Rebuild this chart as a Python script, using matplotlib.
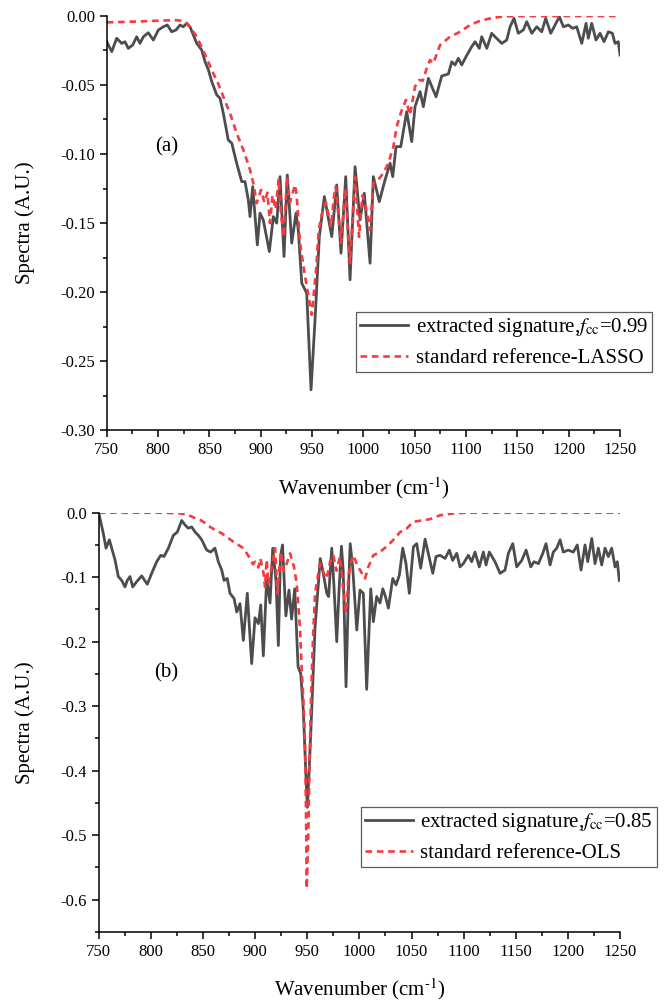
import matplotlib
matplotlib.use("Agg")
import matplotlib.pyplot as plt
from matplotlib.ticker import MultipleLocator, FormatStrFormatter

plt.rcParams["font.family"] = ["Liberation Serif", "DejaVu Serif"]
plt.rcParams["mathtext.fontset"] = "stix"
plt.rcParams["axes.unicode_minus"] = False

# ---- panel (a): LASSO ----
wn_a_ext = [750, 754.9, 759.7, 764.6, 767.8, 771, 775.3, 779.2, 782.4, 785.7, 790.5, 795.4,
            800.3, 805.1, 809, 813.3, 817.5, 821.4, 824.6, 827.9, 831.1, 837.7, 842.5, 845.8,
            849, 852.3, 857.2, 860.4, 863.6, 868.4, 871.8, 876.6, 881.5, 884.7, 887.9, 889.6,
            892.2, 896.7, 899.3, 902.5, 908.4, 912.3, 915.6, 918.8, 922.7, 925.9, 930.2, 934.4,
            936.6, 940, 944.8, 949, 952.9, 957.1, 962, 969.2, 974, 978.2, 982.8, 987, 991.9,
            996.7, 1000.9, 1006.5, 1009.7, 1015.5, 1021.1, 1026, 1028.6, 1031.8, 1036.4, 1042.2,
            1047.1, 1050.3, 1055.2, 1058.4, 1063.3, 1070.8, 1076.3, 1082.8, 1086.1, 1089.3,
            1092.5, 1095.8, 1100, 1105.5, 1108.8, 1112.9, 1115.3, 1120.2, 1125, 1128.2, 1134.8,
            1139.6, 1142.9, 1146.7, 1150.9, 1155.8, 1159.1, 1164, 1168.9, 1173.7, 1177.6,
            1182.5, 1186.7, 1190.9, 1194.8, 1199.6, 1203.9, 1207.8, 1212.7, 1216.9, 1219.1,
            1222.4, 1226.6, 1230.5, 1234.4, 1238.6, 1242.5, 1245.1, 1248.3, 1250]
sp_a_ext = [-0.0188, -0.026, -0.0163, -0.020, -0.0188, -0.0236, -0.0212, -0.0152, -0.020,
            -0.0152, -0.0123, -0.0176, -0.0103, -0.008, -0.0067, -0.0116, -0.0103, -0.0067,
            -0.008, -0.0055, -0.008, -0.020, -0.0248, -0.0333, -0.039, -0.0477, -0.0573,
            -0.0597, -0.0706, -0.0899, -0.0922, -0.1067, -0.120, -0.120, -0.1332, -0.1453,
            -0.1236, -0.1658, -0.1428, -0.1477, -0.1706, -0.1453, -0.150, -0.1164, -0.1742,
            -0.1152, -0.1645, -0.1428, -0.155, -0.1935, -0.2007, -0.2706, -0.220, -0.1598,
            -0.1308, -0.1598, -0.1224, -0.1718, -0.1164, -0.191, -0.1092, -0.1477, -0.1284,
            -0.179, -0.1164, -0.1345, -0.1188, -0.1067, -0.1164, -0.0947, -0.0947, -0.0694,
            -0.0911, -0.0658, -0.0549, -0.0658, -0.0453, -0.0586, -0.0436, -0.0421, -0.0333,
            -0.0356, -0.0308, -0.0356, -0.0296, -0.0224, -0.0188, -0.0236, -0.0152, -0.0236,
            -0.0127, -0.0152, -0.020, -0.0176, -0.008, -0.0019, -0.0127, -0.0103, -0.0043,
            -0.0127, -0.008, -0.0116, -0.0019, -0.0127, -0.0067, -0.0007, -0.008, -0.0067,
            -0.0091, -0.008, -0.020, -0.0055, -0.0163, -0.0055, -0.0176, -0.0127, -0.0188,
            -0.0116, -0.0127, -0.020, -0.0188, -0.0284]

wn_a_ref = [750, 780, 800, 816, 824, 828, 832, 837.7, 842, 847.4, 853.8, 858, 863.6, 870.1,
            876.6, 883.1, 889.6, 892.8, 896.1, 900.3, 903.5, 906.5, 909, 911.5, 914.5, 917.5,
            920, 922.5, 925.5, 928.5, 933.4, 935, 938.3, 943.2, 949.7, 953.9, 956.5, 960.4,
            963.5, 968.4, 971.5, 973.1, 978.2, 982.5, 987, 991.9, 995.8, 999, 1001.5, 1006.5,
            1009.7, 1013, 1019.4, 1024.3, 1029.2, 1032.5, 1037.4, 1041.5, 1045.4, 1050.3,
            1054.5, 1057.8, 1061.7, 1064.9, 1068.1, 1074.7, 1084.4, 1094.2, 1103.9, 1113.7,
            1126.6, 1139.6, 1160, 1200, 1250]
sp_a_ref = [-0.0048, -0.0042, -0.0036, -0.0032, -0.0036, -0.0055, -0.009, -0.0152, -0.022,
            -0.0308, -0.0416, -0.048, -0.0586, -0.0706, -0.085, -0.0971, -0.1115, -0.1212,
            -0.1356, -0.126, -0.135, -0.128, -0.150, -0.130, -0.140, -0.118, -0.145, -0.160,
            -0.117, -0.135, -0.1224, -0.130, -0.1645, -0.1887, -0.2164, -0.1838, -0.155,
            -0.1405, -0.135, -0.1525, -0.130, -0.1236, -0.1645, -0.125, -0.179, -0.1164,
            -0.160, -0.130, -0.135, -0.155, -0.1212, -0.120, -0.1139, -0.1067, -0.0947,
            -0.080, -0.0682, -0.0609, -0.0718, -0.0513, -0.0465, -0.047, -0.038, -0.032,
            -0.0344, -0.0212, -0.0152, -0.0116, -0.0067, -0.0036, -0.0014, -0.0004, -0.0002,
            -0.0002, -0.0002]

# ---- panel (b): OLS ----
wn_b_ext = [750, 754.4, 757, 760.2, 762.5, 765.6, 768.8, 772, 775.2, 777.4, 780, 782.6, 786.4,
            791.2, 796.6, 800.8, 805.6, 809.5, 812.6, 816.8, 821.6, 825.4, 829.6, 832.8, 835.9,
            839.2, 842.4, 845.5, 848.8, 853.6, 857.4, 861.5, 864.7, 868, 870.2, 873.3, 875.9,
            879.8, 882.4, 885.5, 888.7, 892.5, 896.7, 899.9, 903.1, 905.4, 907.9, 911.1, 914.3,
            916.9, 920.1, 922.3, 924.3, 926.3, 929.5, 932.5, 935, 938, 941.2, 943.7, 946.2,
            948.8, 950.1, 952, 954.3, 957.5, 960.6, 962.5, 965.5, 968.7, 970.5, 973.5, 975.5,
            978.3, 980.5, 982.8, 984.5, 987.2, 989.5, 991.2, 993.6, 997.5, 1000.6, 1003.8, 1007,
            1010.9, 1013.4, 1016.6, 1019.8, 1022.5, 1025, 1027.8, 1032, 1035.2, 1038.3, 1041.6,
            1044.7, 1047.9, 1051.8, 1055, 1058.8, 1063, 1066.1, 1070.4, 1073.5, 1077.4, 1082.2,
            1086.3, 1089.5, 1093.4, 1096.5, 1099.7, 1104.5, 1107.7, 1110.9, 1115, 1118.9,
            1121.5, 1124.6, 1130.1, 1134.9, 1139.7, 1142.9, 1147.1, 1150.9, 1155.7, 1159.9,
            1164.4, 1167.5, 1171.7, 1175.9, 1179, 1182.9, 1186, 1189.3, 1192.5, 1195.6, 1200.4,
            1205.2, 1209, 1212.6, 1216.4, 1219, 1222.9, 1226, 1229.2, 1232.4, 1235.6, 1238.8,
            1242, 1245.2, 1247.4, 1249.3]
sp_b_ext = [0.0, -0.032, -0.055, -0.042, -0.055, -0.073, -0.099, -0.105, -0.115, -0.105,
            -0.099, -0.115, -0.107, -0.098, -0.111, -0.094, -0.076, -0.066, -0.068, -0.055,
            -0.035, -0.030, -0.012, -0.019, -0.024, -0.022, -0.030, -0.035, -0.042, -0.058,
            -0.061, -0.055, -0.076, -0.089, -0.105, -0.102, -0.125, -0.133, -0.154, -0.141,
            -0.198, -0.125, -0.234, -0.163, -0.172, -0.143, -0.222, -0.102, -0.140, -0.055,
            -0.107, -0.206, -0.068, -0.050, -0.160, -0.120, -0.165, -0.118, -0.239, -0.249,
            -0.306, -0.410, -0.457, -0.394, -0.306, -0.177, -0.110, -0.071, -0.095, -0.125,
            -0.130, -0.055, -0.110, -0.200, -0.120, -0.052, -0.090, -0.270, -0.120, -0.048,
            -0.085, -0.182, -0.120, -0.125, -0.274, -0.118, -0.169, -0.130, -0.140, -0.118,
            -0.130, -0.148, -0.102, -0.112, -0.097, -0.055, -0.079, -0.125, -0.053, -0.048,
            -0.086, -0.041, -0.063, -0.094, -0.068, -0.066, -0.071, -0.058, -0.074, -0.063,
            -0.084, -0.079, -0.066, -0.076, -0.061, -0.084, -0.061, -0.081, -0.061, -0.076,
            -0.094, -0.089, -0.063, -0.048, -0.084, -0.074, -0.058, -0.084, -0.076, -0.079,
            -0.063, -0.048, -0.081, -0.061, -0.055, -0.042, -0.061, -0.058, -0.061, -0.050,
            -0.089, -0.050, -0.076, -0.040, -0.079, -0.055, -0.081, -0.055, -0.068, -0.055,
            -0.084, -0.076, -0.105]

wn_b_ref = [750, 780, 810, 828, 835, 842, 847.2, 852, 856.8, 862, 868, 874, 879.1, 884,
            888.7, 892, 895.1, 898, 900, 903.1, 905, 907.9, 909.5, 911.1, 912.7, 916, 919.1,
            921.4, 924.6, 927.5, 930.3, 933.5, 937.3, 939.9, 943.1, 944.7, 946.3, 947.9, 948.8,
            949.5, 951, 952, 953.3, 955.3, 957.5, 960.6, 962.3, 965.4, 968.7, 971.9, 975, 978,
            981.4, 984.6, 987.2, 989.5, 991.5, 994.2, 997.5, 1001, 1005.4, 1008.6, 1013.4,
            1019.8, 1027.8, 1035, 1039, 1045, 1051.8, 1060, 1067.8, 1077.4, 1090, 1103, 1150,
            1200, 1250]
sp_b_ref = [0.0, 0.0, 0.0, -0.001, -0.003, -0.008, -0.011, -0.016, -0.022, -0.027, -0.032,
            -0.039, -0.045, -0.050, -0.055, -0.063, -0.071, -0.080, -0.076, -0.085, -0.071,
            -0.092, -0.115, -0.073, -0.110, -0.084, -0.055, -0.125, -0.061, -0.090, -0.079,
            -0.063, -0.084, -0.110, -0.180, -0.244, -0.290, -0.363, -0.462, -0.583, -0.498,
            -0.410, -0.306, -0.203, -0.125, -0.094, -0.079, -0.092, -0.102, -0.076, -0.066,
            -0.090, -0.068, -0.120, -0.155, -0.100, -0.080, -0.066, -0.079, -0.090, -0.102,
            -0.084, -0.066, -0.061, -0.050, -0.038, -0.030, -0.025, -0.014, -0.012, -0.010,
            -0.004, -0.001, 0.0, 0.0, 0.0, 0.0]

ext_color = "#4d4d4d"
ref_color = "#f53b3f"

fig = plt.figure(figsize=(6.67, 10.02), dpi=100)
ax1 = fig.add_axes([0.160, 0.5704, 0.7696, 0.4139])
ax2 = fig.add_axes([0.148, 0.0701, 0.7816, 0.4182])


def style_axes(ax):
    for side in ("top", "right"):
        ax.spines[side].set_visible(False)
    for side in ("left", "bottom"):
        ax.spines[side].set_linewidth(1.1)
    ax.tick_params(which="major", direction="out", length=5, width=1.1, labelsize=12)
    ax.tick_params(which="minor", direction="out", length=3, width=1.1)
    ax.set_xlim(750, 1250)
    ax.xaxis.set_major_locator(MultipleLocator(50))
    ax.xaxis.set_minor_locator(MultipleLocator(25))
    ax.set_xlabel(r"Wavenumber (cm$^{\text{-1}}$)", fontsize=15, labelpad=12)
    ax.set_ylabel("Spectra (A.U.)", fontsize=15, labelpad=18)


def add_legend(ax, handles, labels, anchor):
    leg = ax.legend(handles, labels, loc="upper right", bbox_to_anchor=anchor,
                    bbox_transform=fig.transFigure, fontsize=15, frameon=True,
                    fancybox=False, handlelength=2.3, borderaxespad=0, borderpad=0.2,
                    labelspacing=0.45, handletextpad=0.35)
    leg.get_frame().set_edgecolor("#333333")
    leg.get_frame().set_linewidth(0.9)
    return leg


l1, = ax1.plot(wn_a_ext, sp_a_ext, color=ext_color, lw=2.0, solid_joinstyle="round")
l2, = ax1.plot(wn_a_ref, sp_a_ref, color=ref_color, lw=1.9, ls=(0, (2.5, 1.8)))
style_axes(ax1)
ax1.set_ylim(-0.30, 0.0)
ax1.yaxis.set_major_locator(MultipleLocator(0.05))
ax1.yaxis.set_minor_locator(MultipleLocator(0.025))
ax1.yaxis.set_major_formatter(FormatStrFormatter("%.2f"))
ax1.text(0.117, 0.684, "(a)", transform=ax1.transAxes, fontsize=15, ha="center", va="center")
add_legend(ax1, [l1, l2], [r"extracted signature,$f_{\rm cc}$=0.99", "standard reference-LASSO"],
           (0.978, 0.6889))

m1, = ax2.plot(wn_b_ext, sp_b_ext, color=ext_color, lw=2.0, solid_joinstyle="round")
m2, = ax2.plot(wn_b_ref, sp_b_ref, color=ref_color, lw=1.9, ls=(0, (2.5, 1.8)))
style_axes(ax2)
ax2.set_ylim(-0.65, 0.0)
ax2.yaxis.set_major_locator(MultipleLocator(0.1))
ax2.yaxis.set_minor_locator(MultipleLocator(0.05))
ax2.yaxis.set_major_formatter(FormatStrFormatter("%.1f"))
ax2.text(0.130, 0.618, "(b)", transform=ax2.transAxes, fontsize=15, ha="center", va="center")
add_legend(ax2, [m1, m2], [r"extracted signature,$f_{\rm cc}$=0.85", "standard reference-OLS"],
           (0.9855, 0.1949))

fig.savefig("out.png", dpi=100)
plt.close(fig)
